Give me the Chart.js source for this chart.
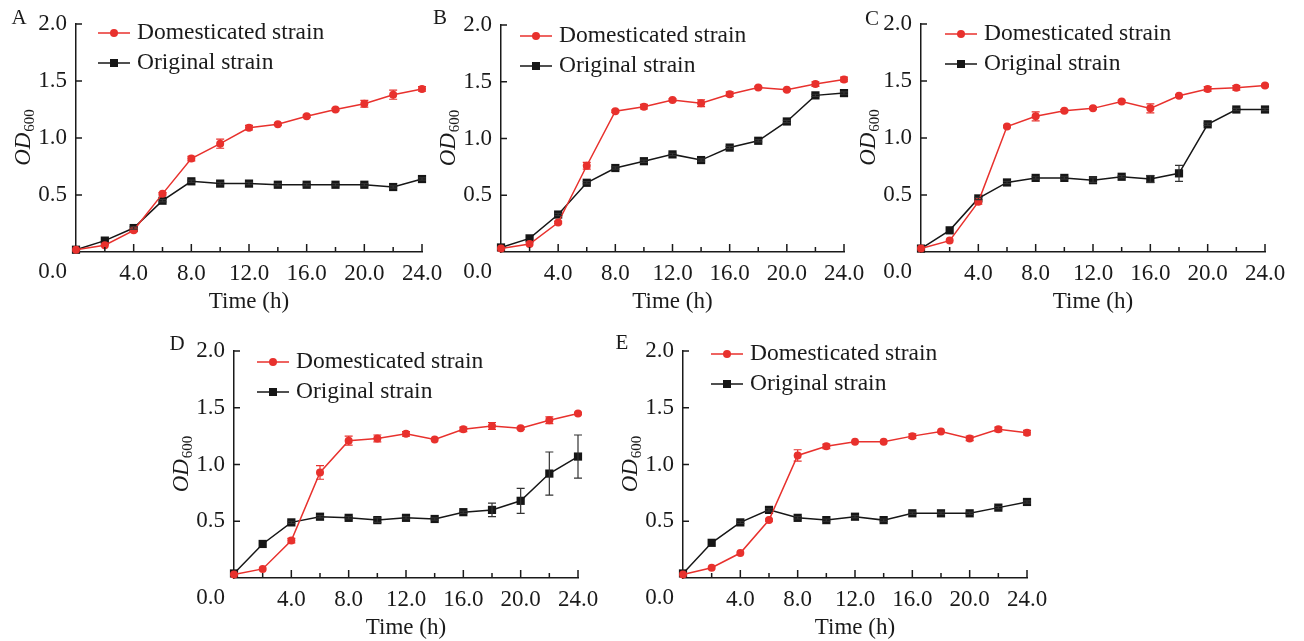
<!DOCTYPE html>
<html>
<head>
<meta charset="utf-8">
<script src="https://cdn.jsdelivr.net/npm/chart.js@4.4.1/dist/chart.umd.min.js"></script>
<style>
  body { margin: 0; background: #fff; width: 1304px; height: 641px; position: relative; overflow: hidden; }
  canvas { position: absolute; }
</style>
</head>
<body>
<canvas id="pA"></canvas>
<canvas id="pB"></canvas>
<canvas id="pC"></canvas>
<canvas id="pD"></canvas>
<canvas id="pE"></canvas>
<script>
// sampling times (h)
var hours = [0, 2, 4, 6, 8, 10, 12, 14, 16, 18, 20, 22, 24];

// A
var domA     = [0.02, 0.06, 0.19, 0.51, 0.82, 0.95, 1.09, 1.12, 1.19, 1.25, 1.30, 1.38, 1.43];
var domAErr  = [0, 0, 0.01, 0.01, 0.02, 0.04, 0.02, 0.01, 0.01, 0.01, 0.03, 0.04, 0.02];
var origA    = [0.02, 0.10, 0.21, 0.45, 0.62, 0.60, 0.60, 0.59, 0.59, 0.59, 0.59, 0.57, 0.64];
var origAErr = [0, 0, 0.01, 0.01, 0.01, 0.01, 0.01, 0.01, 0.01, 0.01, 0.01, 0.01, 0.01];
// B
var domB     = [0.03, 0.07, 0.26, 0.76, 1.24, 1.28, 1.34, 1.31, 1.39, 1.45, 1.43, 1.48, 1.52];
var domBErr  = [0, 0, 0.01, 0.03, 0.01, 0.02, 0.01, 0.03, 0.02, 0.01, 0.01, 0.02, 0.02];
var origB    = [0.04, 0.12, 0.33, 0.61, 0.74, 0.80, 0.86, 0.81, 0.92, 0.98, 1.15, 1.38, 1.40];
var origBErr = [0, 0, 0.01, 0.01, 0.01, 0.01, 0.01, 0.01, 0.01, 0.01, 0.01, 0.01, 0.01];
// C
var domC     = [0.03, 0.10, 0.44, 1.10, 1.19, 1.24, 1.26, 1.32, 1.26, 1.37, 1.43, 1.44, 1.46];
var domCErr  = [0, 0, 0.02, 0.01, 0.04, 0.01, 0.01, 0.01, 0.04, 0.01, 0.02, 0.02, 0.01];
var origC    = [0.03, 0.19, 0.47, 0.61, 0.65, 0.65, 0.63, 0.66, 0.64, 0.69, 1.12, 1.25, 1.25];
var origCErr = [0, 0, 0.01, 0.01, 0.01, 0.01, 0.02, 0.01, 0.03, 0.07, 0.01, 0.01, 0.01];
// D
var domD     = [0.03, 0.08, 0.33, 0.93, 1.21, 1.23, 1.27, 1.22, 1.31, 1.34, 1.32, 1.39, 1.45];
var domDErr  = [0, 0, 0.02, 0.06, 0.04, 0.03, 0.02, 0, 0.02, 0.03, 0.01, 0.03, 0.01];
var origD    = [0.04, 0.30, 0.49, 0.54, 0.53, 0.51, 0.53, 0.52, 0.58, 0.60, 0.68, 0.92, 1.07];
var origDErr = [0, 0, 0.01, 0.01, 0.01, 0.02, 0.01, 0.01, 0.01, 0.06, 0.11, 0.19, 0.19];
// E
var domE     = [0.03, 0.09, 0.22, 0.51, 1.08, 1.16, 1.20, 1.20, 1.25, 1.29, 1.23, 1.31, 1.28];
var domEErr  = [0, 0, 0, 0.01, 0.05, 0.02, 0, 0, 0.02, 0, 0.02, 0.02, 0.02];
var origE    = [0.04, 0.31, 0.49, 0.60, 0.53, 0.51, 0.54, 0.51, 0.57, 0.57, 0.57, 0.62, 0.67];
var origEErr = [0, 0, 0.01, 0.01, 0.01, 0.01, 0.01, 0.01, 0.01, 0.01, 0.01, 0.01, 0.01];

var seriesNames = ["Domesticated strain", "Original strain"];
var yTicks = [0.5, 1.0, 1.5, 2.0];

var serif = '"Liberation Serif", "Times New Roman", serif';
var red = "#e8312d";
var black = "#161616";
var ink = "#1a1a1a";

function pts(vals) {
  return hours.map(function (h, i) { return { x: h, y: vals[i] }; });
}

var panelDeco = {
  id: "panelDeco",
  afterDatasetsDraw: function (chart) {
    var ctx = chart.ctx, ys = chart.scales.y, xs = chart.scales.x;
    ctx.save();
    chart.data.datasets.forEach(function (ds) {
      if (!ds.errors) return;
      ctx.strokeStyle = ds.errColor;
      ctx.lineWidth = 1.2;
      ds.data.forEach(function (p, i) {
        var e = ds.errors[i];
        if (!e) return;
        var px = xs.getPixelForValue(p.x);
        var y1 = ys.getPixelForValue(p.y + e), y2 = ys.getPixelForValue(p.y - e);
        ctx.beginPath();
        ctx.moveTo(px, y1); ctx.lineTo(px, y2);
        ctx.moveTo(px - 4, y1); ctx.lineTo(px + 4, y1);
        ctx.moveTo(px - 4, y2); ctx.lineTo(px + 4, y2);
        ctx.stroke();
      });
    });
    ctx.restore();
  },
  afterDraw: function (chart, args, opts) {
    var ctx = chart.ctx, a = chart.chartArea, xs = chart.scales.x, ys = chart.scales.y;
    ctx.save();
    ctx.strokeStyle = ink;
    ctx.lineWidth = 1.5;
    // inward ticks
    ctx.beginPath();
    for (var t = 2; t <= 24; t += 2) {
      var px = xs.getPixelForValue(t);
      ctx.moveTo(px, a.bottom);
      ctx.lineTo(px, a.bottom - (t % 4 === 0 ? 8 : 5));
    }
    yTicks.forEach(function (v) {
      var py = ys.getPixelForValue(v);
      ctx.moveTo(a.left, py);
      ctx.lineTo(a.left + 6, py);
    });
    ctx.stroke();

    ctx.fillStyle = ink;
    ctx.font = "23px " + serif;
    // shared origin label
    ctx.textAlign = "right";
    ctx.textBaseline = "top";
    ctx.fillText("0.0", a.left - 9, a.bottom + 8);
    // x title
    ctx.textAlign = "center";
    ctx.textBaseline = "middle";
    ctx.fillText("Time (h)", (a.left + a.right) / 2, a.bottom + 50);
    // panel letter
    ctx.font = "21px " + serif;
    ctx.fillText(opts.letter, a.left + opts.letterDx, a.top + opts.letterDy);

    // y title OD600
    ctx.save();
    ctx.translate(a.left - 54, (a.top + a.bottom) / 2);
    ctx.rotate(-Math.PI / 2);
    ctx.font = "italic 23px " + serif;
    var w1 = ctx.measureText("OD").width;
    ctx.font = "15px " + serif;
    var w2 = ctx.measureText("600").width;
    var x0 = -(w1 + w2) / 2;
    ctx.textAlign = "left";
    ctx.textBaseline = "alphabetic";
    ctx.font = "italic 23px " + serif;
    ctx.fillText("OD", x0, 8);
    ctx.font = "15px " + serif;
    ctx.fillText("600", x0 + w1 + 1, 12);
    ctx.restore();

    // legend
    var lx = a.left + opts.legDx, ly = a.top + opts.legDy;
    chart.data.datasets.forEach(function (ds, i) {
      var y = ly + i * 30;
      ctx.strokeStyle = ds.borderColor;
      ctx.lineWidth = 1.5;
      ctx.beginPath();
      ctx.moveTo(lx, y); ctx.lineTo(lx + 32, y);
      ctx.stroke();
      ctx.fillStyle = ds.borderColor;
      if (ds.pointStyle === "circle") {
        ctx.beginPath();
        ctx.arc(lx + 16, y, 4, 0, Math.PI * 2);
        ctx.fill();
      } else {
        ctx.fillRect(lx + 12, y - 4, 8, 8);
      }
      ctx.fillStyle = ink;
      ctx.font = "23.5px " + serif;
      ctx.textAlign = "left";
      ctx.textBaseline = "middle";
      ctx.fillText(ds.label, lx + 39, y);
    });
    ctx.restore();
  }
};

function panel(id, box, area, deco, dom, domErr, orig, origErr) {
  var cv = document.getElementById(id);
  cv.width = box.w; cv.height = box.h;
  cv.style.left = box.x + "px"; cv.style.top = box.y + "px";
  var yW = area.left - box.x;
  var xH = box.y + box.h - area.bottom;
  return new Chart(cv.getContext("2d"), {
    type: "line",
    data: {
      datasets: [
        {
          label: seriesNames[0],
          data: pts(dom),
          errors: domErr,
          errColor: red,
          borderColor: red,
          backgroundColor: red,
          borderWidth: 1.5,
          pointStyle: "circle",
          pointRadius: 4,
          pointBorderWidth: 0,
          pointBackgroundColor: red,
          tension: 0,
          clip: false
        },
        {
          label: seriesNames[1],
          data: pts(orig),
          errors: origErr,
          errColor: "#333",
          borderColor: black,
          backgroundColor: black,
          borderWidth: 1.5,
          pointStyle: "rect",
          pointRadius: 5.8,
          pointBorderWidth: 0,
          pointBackgroundColor: black,
          tension: 0,
          clip: false
        }
      ]
    },
    options: {
      responsive: false,
      animation: false,
      devicePixelRatio: 1,
      layout: { padding: { top: area.top - box.y, right: box.x + box.w - area.right, left: 0, bottom: 0 } },
      plugins: {
        legend: { display: false },
        tooltip: { enabled: false },
        panelDeco: deco
      },
      scales: {
        x: {
          type: "linear",
          min: 0, max: 24,
          grid: { display: false, drawTicks: false },
          border: { display: true, color: ink, width: 1.5 },
          ticks: {
            stepSize: 4, autoSkip: false, maxRotation: 0, padding: 8,
            color: ink, font: { family: serif, size: 23 },
            callback: function (v) { return v === 0 ? "" : v.toFixed(1); }
          },
          afterFit: function (s) { s.height = xH; s.paddingLeft = 0; s.paddingRight = 0; }
        },
        y: {
          min: 0, max: 2,
          grid: { display: false, drawTicks: false },
          border: { display: true, color: ink, width: 1.5 },
          ticks: {
            stepSize: 0.5, padding: 9,
            color: ink, font: { family: serif, size: 23 },
            callback: function (v) { return v === 0 ? "" : v.toFixed(1); }
          },
          afterFit: function (s) { s.width = yW; s.paddingTop = 0; s.paddingBottom = 0; }
        }
      }
    },
    plugins: [panelDeco]
  });
}

panel("pA", { x: 0, y: 0, w: 452, h: 320 }, { left: 76, top: 24, right: 422, bottom: 252 },
  { letter: "A", letterDx: -57, letterDy: -6, legDx: 22, legDy: 9 }, domA, domAErr, origA, origAErr);
panel("pB", { x: 425, y: 0, w: 450, h: 320 }, { left: 501, top: 25, right: 844, bottom: 252 },
  { letter: "B", letterDx: -61, letterDy: -7, legDx: 19, legDy: 11 }, domB, domBErr, origB, origBErr);
panel("pC", { x: 858, y: 0, w: 446, h: 320 }, { left: 921, top: 24, right: 1265, bottom: 252 },
  { letter: "C", letterDx: -49, letterDy: -5, legDx: 24, legDy: 10 }, domC, domCErr, origC, origCErr);
panel("pD", { x: 160, y: 320, w: 440, h: 321 }, { left: 234, top: 351, right: 578, bottom: 578 },
  { letter: "D", letterDx: -57, letterDy: -7, legDx: 23, legDy: 11 }, domD, domDErr, origD, origDErr);
panel("pE", { x: 600, y: 320, w: 450, h: 321 }, { left: 683, top: 351, right: 1027, bottom: 578 },
  { letter: "E", letterDx: -61, letterDy: -8, legDx: 28, legDy: 3 }, domE, domEErr, origE, origEErr);
</script>
</body>
</html>
